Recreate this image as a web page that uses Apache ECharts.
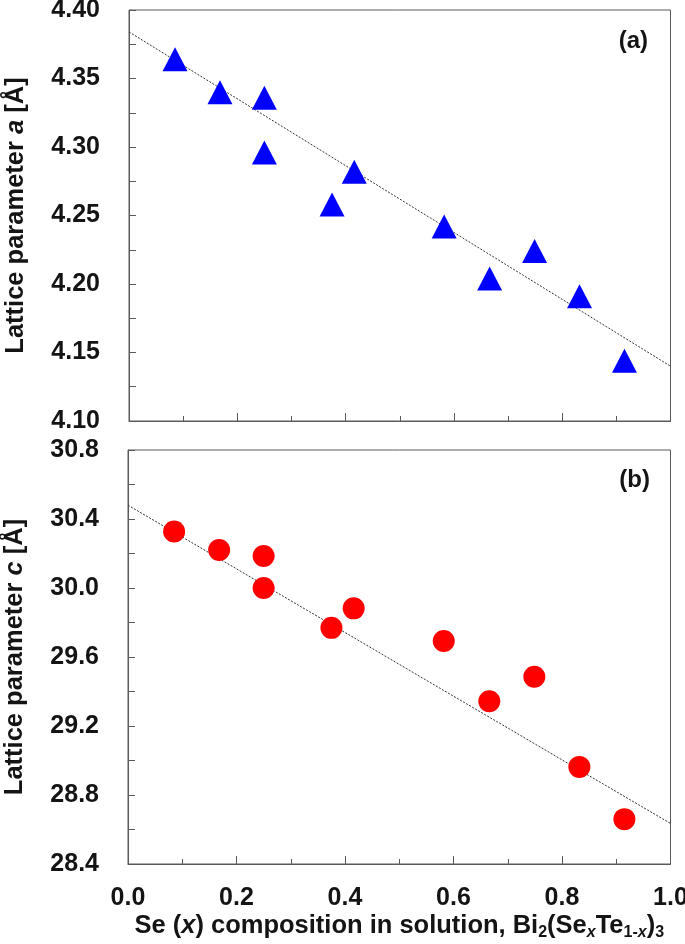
<!DOCTYPE html>
<html>
<head>
<meta charset="utf-8">
<script src="https://cdn.jsdelivr.net/npm/echarts@6/dist/echarts.min.js"></script>
<style>html,body{margin:0;padding:0;background:#fff}#c{width:685px;height:944px}</style>
</head>
<body>
<div id="c"></div>
<script>
const xVals = [0.085, 0.168, 0.250, 0.250, 0.375, 0.416, 0.582, 0.666, 0.749, 0.832, 0.915];
const aVals = [4.364, 4.340, 4.336, 4.296, 4.258, 4.282, 4.242, 4.204, 4.224, 4.191, 4.144];
const cVals = [30.327, 30.22, 30.185, 30.0, 29.769, 29.882, 29.693, 29.343, 29.485, 28.963, 28.66];
const fitX = [0, 1];
const fitA = [4.384, 4.140];
const fitC = [30.48, 28.635];
const xTicks = { min: 0, max: 1, interval: 0.2 };
const aTicks = { min: 4.10, max: 4.40, interval: 0.05 };
const cTicks = { min: 28.4, max: 30.8, interval: 0.4 };

const FONT = 'Liberation Sans';
const frame = '#5a5a5a';
const ink = '#141414';
const pairs = (xs, ys) => xs.map((x, i) => [x, ys[i]]);

function xAxis(idx, showLabels) {
  return {
    type: 'value', gridIndex: idx, min: xTicks.min, max: xTicks.max, interval: xTicks.interval,
    axisLine: { show: true, onZero: false, lineStyle: { color: frame, width: 1 } },
    axisTick: { show: true, inside: true, length: 8, lineStyle: { color: frame } },
    minorTick: { show: true, splitNumber: 2, length: 5, lineStyle: { color: frame } },
    splitLine: { show: false },
    axisLabel: {
      show: showLabels, margin: 22, color: ink, fontFamily: FONT, fontWeight: 'bold', fontSize: 25,
      formatter: v => v.toFixed(1)
    },
    name: showLabels ? '{n|Se (}{i|x}{n|) composition in solution, Bi}{s|2}{n|(Se}{si|x}{n|Te}{s|1-}{si|x}{n|)}{s|3}' : '',
    nameLocation: 'middle', nameGap: 47,
    nameTextStyle: {
      rich: {
        n: { fontFamily: FONT, fontWeight: 'bold', fontSize: 25.5, color: ink, lineHeight: 30 },
        i: { fontFamily: FONT, fontWeight: 'bold', fontStyle: 'italic', fontSize: 25.5, color: ink, lineHeight: 30 },
        s: { fontFamily: FONT, fontWeight: 'bold', fontSize: 16, color: ink, lineHeight: 16, verticalAlign: 'bottom' },
        si: { fontFamily: FONT, fontWeight: 'bold', fontStyle: 'italic', fontSize: 16, color: ink, lineHeight: 16, verticalAlign: 'bottom' }
      }
    }
  };
}

function yAxis(idx, t, dec, letter) {
  return {
    type: 'value', gridIndex: idx, min: t.min, max: t.max, interval: t.interval,
    axisLine: { show: true, lineStyle: { color: frame, width: 1 } },
    axisTick: { show: true, inside: true, length: 7, lineStyle: { color: frame } },
    minorTick: { show: true, splitNumber: 2, length: 7, lineStyle: { color: frame } },
    splitLine: { show: false },
    axisLabel: {
      margin: 29, color: ink, fontFamily: FONT, fontWeight: 'bold', fontSize: 25,
      formatter: v => v.toFixed(dec)
    },
    name: '{n|Lattice parameter }{i|' + letter + '}{n| [Å]}',
    nameLocation: 'middle', nameGap: 100, nameRotate: 90,
    nameTextStyle: {
      rich: {
        n: { fontFamily: FONT, fontWeight: 'bold', fontSize: 25.5, color: ink },
        i: { fontFamily: FONT, fontWeight: 'bold', fontStyle: 'italic', fontSize: 25.5, color: ink }
      }
    }
  };
}

const chart = echarts.init(document.getElementById('c'), null, { renderer: 'canvas' });
chart.setOption({
  animation: false,
  backgroundColor: '#fff',
  title: [
    { text: '(a)', right: 32, top: 24, textStyle: { fontFamily: FONT, fontWeight: 'bold', fontSize: 24, color: ink } },
    { text: '(b)', right: 30, top: 463, textStyle: { fontFamily: FONT, fontWeight: 'bold', fontSize: 24, color: ink } }
  ],
  grid: [
    { left: 129, right: 14.5, top: 10, height: 411, outerBoundsMode: 'none', containLabel: false, show: true, borderColor: frame, borderWidth: 1, backgroundColor: 'transparent' },
    { left: 128, right: 14.5, top: 450, height: 414, outerBoundsMode: 'none', containLabel: false, show: true, borderColor: frame, borderWidth: 1, backgroundColor: 'transparent' }
  ],
  xAxis: [xAxis(0, false), xAxis(1, true)],
  yAxis: [yAxis(0, aTicks, 2, 'a'), yAxis(1, cTicks, 1, 'c')],
  series: [
    { type: 'line', xAxisIndex: 0, yAxisIndex: 0, data: pairs(fitX, fitA), showSymbol: false, symbol: 'none', lineStyle: { color: '#333', width: 1, type: [2, 1.5] }, z: 2 },
    { type: 'scatter', xAxisIndex: 0, yAxisIndex: 0, data: pairs(xVals, aVals), symbol: 'triangle', symbolSize: [25, 24], itemStyle: { color: '#0000ff', opacity: 1 }, z: 3 },
    { type: 'line', xAxisIndex: 1, yAxisIndex: 1, data: pairs(fitX, fitC), showSymbol: false, symbol: 'none', lineStyle: { color: '#333', width: 1, type: [2, 1.5] }, z: 2 },
    { type: 'scatter', xAxisIndex: 1, yAxisIndex: 1, data: pairs(xVals, cVals), symbol: 'circle', symbolSize: 22, itemStyle: { color: '#ff0000', opacity: 1 }, z: 3 }
  ]
});
</script>
</body>
</html>
